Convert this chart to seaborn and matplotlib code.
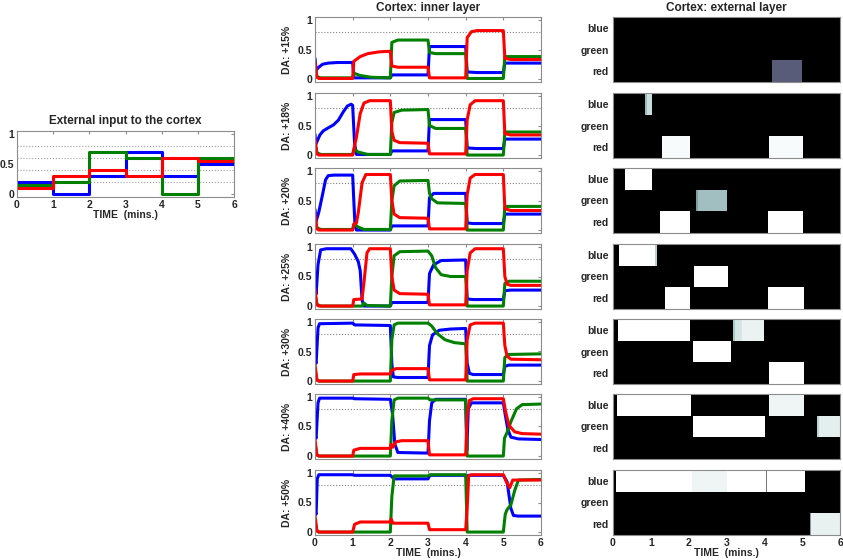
import numpy as np
import matplotlib
matplotlib.use("Agg")
import matplotlib.pyplot as plt
import seaborn as sns

sns.set_style("white")
plt.rcParams["font.family"] = ["Liberation Sans", "DejaVu Sans"]
plt.rcParams["font.weight"] = "bold"

# ---- data ----
minutes = [0, 1, 2, 3, 4, 5, 6]
input_blue = [0.2, 0.0, 0.3, 0.7, 0.3, 0.5]
input_green = [0.15, 0.2, 0.7, 0.6, 0.0, 0.6]
input_red = [0.1, 0.3, 0.4, 0.3, 0.6, 0.55]

da_labels = ["DA: +15%", "DA: +18%", "DA: +20%", "DA: +25%", "DA: +30%", "DA: +40%", "DA: +50%"]

# inner layer traces, (time, activity)
blue_15 = [(0, 0.35), (0.03, 0.15), (0.1, 0.2), (0.2, 0.25), (0.35, 0.27), (0.6, 0.28), (1.0, 0.28),
           (1.03, 0.02), (2.0, 0.02), (2.04, 0.07), (3.0, 0.07), (3.04, 0.55), (4.0, 0.55),
           (4.04, 0.12), (4.3, 0.11), (5.0, 0.11), (5.04, 0.27), (6, 0.27)]
green_15 = [(0, 0.2), (0.05, 0.04), (0.15, 0.02), (1.0, 0.02), (1.03, 0.1), (1.2, 0.06), (1.5, 0.03),
            (2.0, 0.02), (2.04, 0.62), (2.2, 0.66), (3.0, 0.66), (3.04, 0.45), (3.2, 0.43), (4.0, 0.43),
            (4.04, 0.01), (5.0, 0.01), (5.04, 0.38), (6, 0.38)]
red_15 = [(0, 0.28), (0.05, 0.03), (0.1, 0.01), (1.0, 0.01), (1.03, 0.3), (1.2, 0.38), (1.4, 0.43),
          (1.7, 0.46), (2.0, 0.47), (2.04, 0.22), (2.2, 0.2), (3.0, 0.2), (3.04, 0.02), (4.0, 0.02),
          (4.04, 0.7), (4.15, 0.8), (4.3, 0.82), (5.0, 0.82), (5.04, 0.35), (5.2, 0.33), (6, 0.33)]

blue_18 = [(0, 0.35), (0.02, 0.18), (0.13, 0.34), (0.22, 0.41), (0.35, 0.46), (0.49, 0.51), (0.62, 0.59),
           (0.75, 0.73), (0.86, 0.83), (0.96, 0.86), (1.0, 0.84), (1.05, 0.2), (1.1, 0.01), (2.0, 0.01),
           (2.04, 0.07), (3.0, 0.07), (3.04, 0.6), (4.0, 0.6), (4.04, 0.12), (4.3, 0.11), (5.0, 0.11),
           (5.04, 0.27), (6, 0.27)]
green_18 = [(0, 0.2), (0.05, 0.04), (0.15, 0.01), (1.0, 0.01), (1.04, 0.1), (1.15, 0.05), (1.4, 0.01),
            (2.0, 0.01), (2.04, 0.55), (2.1, 0.72), (2.3, 0.76), (3.0, 0.77), (3.04, 0.5), (3.2, 0.45),
            (4.0, 0.45), (4.04, 0.0), (5.0, 0.0), (5.04, 0.39), (6, 0.39)]
red_18 = [(0, 0.28), (0.05, 0.02), (0.1, 0.0), (1.0, 0.0), (1.03, 0.1), (1.1, 0.3), (1.2, 0.7), (1.3, 0.88),
          (1.45, 0.92), (2.0, 0.92), (2.04, 0.4), (2.1, 0.25), (2.25, 0.21), (3.0, 0.2), (3.04, 0.02),
          (4.0, 0.02), (4.04, 0.6), (4.12, 0.85), (4.25, 0.92), (5.0, 0.92), (5.04, 0.36), (5.2, 0.34), (6, 0.34)]

blue_20 = [(0, 0.35), (0.03, 0.15), (0.1, 0.3), (0.2, 0.6), (0.28, 0.85), (0.35, 0.92), (0.5, 0.93),
           (1.0, 0.93), (1.03, 0.5), (1.06, 0.1), (1.1, 0.0), (2.0, 0.0), (2.04, 0.07), (3.0, 0.07),
           (3.04, 0.55), (3.15, 0.62), (4.0, 0.62), (4.04, 0.12), (4.2, 0.11), (5.0, 0.11), (5.04, 0.27), (6, 0.27)]
green_20 = [(0, 0.2), (0.05, 0.04), (0.15, 0.01), (1.0, 0.01), (1.04, 0.1), (1.15, 0.05), (1.3, 0.01),
            (2.0, 0.01), (2.04, 0.5), (2.1, 0.75), (2.25, 0.83), (3.0, 0.84), (3.04, 0.62), (3.1, 0.53),
            (3.25, 0.46), (4.0, 0.45), (4.04, 0.0), (5.0, 0.0), (5.04, 0.4), (6, 0.4)]
red_20 = [(0, 0.28), (0.05, 0.02), (0.1, 0.0), (1.0, 0.0), (1.03, 0.1), (1.1, 0.12), (1.15, 0.3),
          (1.25, 0.8), (1.35, 0.94), (2.0, 0.94), (2.04, 0.5), (2.1, 0.27), (2.25, 0.21), (3.0, 0.2),
          (3.04, 0.02), (4.0, 0.02), (4.04, 0.6), (4.12, 0.88), (4.25, 0.94), (5.0, 0.94), (5.04, 0.36),
          (5.2, 0.33), (6, 0.33)]

blue_25 = [(0, 0.35), (0.03, 0.2), (0.08, 0.7), (0.15, 0.95), (0.3, 0.97), (0.95, 0.97), (1.05, 0.88),
           (1.15, 0.75), (1.2, 0.6), (1.25, 0.1), (1.3, 0.0), (2.0, 0.0), (2.04, 0.06), (3.0, 0.06),
           (3.04, 0.55), (3.15, 0.7), (3.35, 0.77), (4.0, 0.78), (4.04, 0.12), (4.2, 0.11), (5.0, 0.11),
           (5.04, 0.26), (5.2, 0.27), (6, 0.27)]
green_25 = [(0, 0.2), (0.05, 0.03), (0.15, 0.0), (1.25, 0.0), (1.3, 0.05), (1.38, 0.01), (2.0, 0.0),
            (2.04, 0.5), (2.1, 0.85), (2.25, 0.92), (3.0, 0.93), (3.1, 0.85), (3.2, 0.65), (3.35, 0.53),
            (3.6, 0.5), (4.0, 0.5), (4.04, 0.0), (5.0, 0.0), (5.04, 0.38), (5.15, 0.42), (6, 0.42)]
red_25 = [(0, 0.28), (0.05, 0.02), (0.1, 0.0), (1.0, 0.0), (1.03, 0.11), (1.25, 0.12), (1.3, 0.4),
          (1.38, 0.9), (1.45, 0.97), (2.0, 0.97), (2.04, 0.5), (2.1, 0.27), (2.25, 0.21), (3.0, 0.2),
          (3.04, 0.02), (4.0, 0.02), (4.04, 0.6), (4.12, 0.9), (4.25, 0.97), (5.0, 0.97), (5.04, 0.5),
          (5.1, 0.37), (5.2, 0.35), (6, 0.35)]

blue_30 = [(0, 0.35), (0.03, 0.3), (0.08, 0.9), (0.12, 0.97), (1.0, 0.98), (1.05, 0.95), (2.0, 0.94),
           (2.04, 0.3), (2.08, 0.07), (2.2, 0.06), (3.0, 0.06), (3.04, 0.6), (3.12, 0.78), (3.3, 0.86),
           (3.6, 0.88), (4.0, 0.89), (4.04, 0.3), (4.1, 0.13), (4.2, 0.11), (5.0, 0.11), (5.04, 0.25),
           (5.15, 0.27), (6, 0.27)]
green_30 = [(0, 0.2), (0.05, 0.02), (0.1, 0.0), (2.0, 0.0), (2.04, 0.7), (2.1, 0.95), (2.2, 0.98),
            (3.0, 0.98), (3.1, 0.93), (3.25, 0.8), (3.45, 0.7), (3.7, 0.65), (4.0, 0.63), (4.04, 0.0),
            (5.0, 0.0), (5.04, 0.4), (5.15, 0.45), (6, 0.46)]
red_30 = [(0, 0.28), (0.05, 0.02), (0.1, 0.0), (1.0, 0.0), (1.03, 0.11), (1.2, 0.12), (2.0, 0.12),
          (2.04, 0.18), (2.15, 0.21), (3.0, 0.21), (3.04, 0.02), (4.0, 0.02), (4.04, 0.7), (4.12, 0.95),
          (4.25, 0.98), (5.0, 0.98), (5.04, 0.6), (5.1, 0.42), (5.2, 0.37), (6, 0.36)]

blue_40 = [(0, 0.35), (0.03, 0.3), (0.08, 0.9), (0.12, 0.98), (1.0, 0.98), (1.05, 0.97), (2.0, 0.96),
           (2.06, 0.7), (2.12, 0.2), (2.2, 0.06), (3.0, 0.05), (3.04, 0.6), (3.1, 0.9), (3.2, 0.96),
           (4.0, 0.96), (4.03, 0.1), (4.07, 0.8), (4.15, 0.9), (5.0, 0.9), (5.05, 0.7), (5.12, 0.45),
           (5.2, 0.32), (5.4, 0.29), (6, 0.28)]
green_40 = [(0, 0.2), (0.05, 0.02), (0.1, 0.0), (2.0, 0.0), (2.04, 0.6), (2.1, 0.95), (2.2, 0.98),
            (3.0, 0.98), (3.05, 0.95), (4.0, 0.95), (4.04, 0.0), (5.0, 0.0), (5.03, 0.3), (5.1, 0.4),
            (5.2, 0.58), (5.35, 0.8), (5.5, 0.87), (6, 0.88)]
red_40 = [(0, 0.28), (0.05, 0.02), (0.1, 0.0), (1.0, 0.0), (1.03, 0.1), (1.2, 0.13), (2.0, 0.13),
          (2.02, 0.2), (2.07, 0.15), (2.15, 0.24), (2.3, 0.26), (3.0, 0.26), (3.04, 0.02), (4.0, 0.02),
          (4.04, 0.7), (4.1, 0.94), (4.2, 0.97), (5.0, 0.97), (5.06, 0.75), (5.15, 0.52), (5.3, 0.41),
          (5.5, 0.38), (6, 0.37)]

blue_50 = [(0, 0.35), (0.03, 0.3), (0.06, 0.9), (0.1, 0.97), (1.0, 0.97), (1.05, 0.96), (2.0, 0.96),
           (2.1, 0.9), (3.0, 0.9), (3.05, 0.96), (4.0, 0.96), (4.03, 0.9), (4.07, 0.96), (5.0, 0.96),
           (5.1, 0.85), (5.2, 0.4), (5.27, 0.28), (5.4, 0.27), (6, 0.27)]
green_50 = [(0, 0.2), (0.05, 0.02), (0.1, 0.0), (2.0, 0.0), (2.04, 0.6), (2.1, 0.95), (3.0, 0.95),
            (3.05, 0.97), (4.0, 0.97), (4.04, 0.0), (5.0, 0.0), (5.05, 0.3), (5.1, 0.38), (5.2, 0.46),
            (5.3, 0.7), (5.4, 0.88), (6, 0.89)]
red_50 = [(0, 0.28), (0.05, 0.02), (0.1, 0.0), (1.0, 0.0), (1.05, 0.13), (1.2, 0.17), (2.0, 0.17),
          (2.02, 0.22), (2.07, 0.15), (3.0, 0.15), (3.04, 0.04), (4.0, 0.04), (4.04, 0.4), (4.08, 0.95),
          (4.15, 0.97), (5.0, 0.97), (5.08, 0.85), (5.17, 0.75), (5.25, 0.88), (5.35, 0.88), (6, 0.88)]

blue_traces = [blue_15, blue_18, blue_20, blue_25, blue_30, blue_40, blue_50]
green_traces = [green_15, green_18, green_20, green_25, green_30, green_40, green_50]
red_traces = [red_15, red_18, red_20, red_25, red_30, red_40, red_50]

# external layer: (row, start, end, level)
rows = ["blue", "green", "red"]
cells_15 = [("red", 4.2, 5.0, 0.4)]
cells_18 = [("blue", 0.85, 0.9, 0.7), ("blue", 0.9, 1.03, 0.85), ("red", 1.3, 2.04, 0.98),
            ("red", 4.13, 5.03, 0.98)]
cells_20 = [("blue", 0.32, 1.03, 1.0), ("green", 2.2, 2.25, 0.6), ("green", 2.25, 3.02, 0.72),
            ("red", 1.24, 2.04, 1.0), ("red", 4.1, 5.03, 1.0)]
cells_25 = [("blue", 0.17, 1.12, 1.0), ("blue", 1.12, 1.15, 0.8), ("green", 2.14, 3.04, 1.0),
            ("red", 1.38, 2.04, 1.0), ("red", 4.1, 5.05, 1.0)]
cells_30 = [("blue", 0.13, 2.04, 1.0), ("blue", 3.17, 3.22, 0.75), ("blue", 3.22, 3.4, 0.88),
            ("blue", 3.4, 4.0, 0.94), ("green", 2.12, 3.12, 1.0), ("red", 4.13, 5.05, 1.0)]
cells_40 = [("blue", 0.1, 2.06, 1.0), ("blue", 4.13, 5.05, 0.95), ("green", 2.12, 4.02, 1.0),
            ("green", 5.4, 5.45, 0.8), ("green", 5.45, 6.0, 0.92)]
cells_50 = [("blue", 0.08, 2.1, 1.0), ("blue", 2.1, 3.0, 0.95), ("blue", 3.0, 4.05, 1.0),
            ("blue", 4.05, 4.08, 0.5), ("blue", 4.08, 5.08, 1.0), ("red", 5.2, 5.24, 0.6),
            ("red", 5.24, 6.0, 0.93)]
ext_cells = [cells_15, cells_18, cells_20, cells_25, cells_30, cells_40, cells_50]

# ---- figure ----
W, H = 843, 560
fig = plt.figure(figsize=(W / 100, H / 100), dpi=100)


def box(x0, y0, x1, y1):
    return [x0 / W, 1 - y1 / H, (x1 - x0) / W, (y1 - y0) / H]


colors = {"blue": "#0000ff", "green": "#008000", "red": "#ff0000"}
frame = "#8c8c8c"
fs = 7.5
tfs = 8.5


def style_frame(ax):
    for s in ax.spines.values():
        s.set_visible(True)
        s.set_color(frame)
        s.set_linewidth(0.8)
    ax.tick_params(direction="in", length=2.5, color=frame, top=True, right=True,
                   labelsize=fs, pad=2)


def draw_trace(ax, pts, color):
    t = [p[0] for p in pts]
    v = [p[1] for p in pts]
    sns.lineplot(x=t, y=v, ax=ax, color=color, linewidth=2.2, estimator=None, sort=False)


# left: external input
ax = fig.add_axes(box(17, 131, 234, 197))
for y in [0.2, 0.4, 0.6, 0.8]:
    ax.axhline(y, color="#a0a0a0", ls=":", lw=0.8)
for name, vals in [("blue", input_blue), ("green", input_green), ("red", input_red)]:
    sns.lineplot(x=minutes, y=vals + [vals[-1]], ax=ax, color=colors[name], linewidth=2.2,
                 drawstyle="steps-post", estimator=None, sort=False)
ax.set_xlim(0, 6)
ax.set_ylim(-0.05, 1.05)
ax.set_xticks(minutes)
ax.set_yticks([0, 0.5, 1])
ax.set_yticklabels(["0", "0.5", "1"])
style_frame(ax)
ax.set_title("External input to the cortex", fontsize=tfs, fontweight="bold", pad=5)
ax.set_xlabel("TIME  (mins.)", fontsize=fs, fontweight="bold", labelpad=0)

tops = [17, 93, 168, 244, 319, 394, 470]
for i, top in enumerate(tops):
    # middle: inner layer
    ax = fig.add_axes(box(315, top, 541, top + 65))
    ax.axhline(0.8, color="#808080", ls=":", lw=0.8)
    draw_trace(ax, blue_traces[i], colors["blue"])
    draw_trace(ax, green_traces[i], colors["green"])
    draw_trace(ax, red_traces[i], colors["red"])
    ax.set_xlim(0, 6)
    ax.set_ylim(-0.05, 1.05)
    ax.set_xticks(minutes)
    ax.set_yticks([0, 0.5, 1])
    ax.set_yticklabels(["0", "0.5", "1"])
    style_frame(ax)
    ax.set_ylabel(da_labels[i], fontsize=fs, fontweight="bold")
    ax.yaxis.set_label_coords(-0.1, 0.5)
    if i == 0:
        ax.set_title("Cortex: inner layer", fontsize=tfs, fontweight="bold", pad=4)
    if i == len(tops) - 1:
        ax.set_xlabel("TIME  (mins.)", fontsize=fs, fontweight="bold", labelpad=0)
    else:
        ax.set_xticklabels([])

    # right: external layer
    mat = np.zeros((3, 600))
    for row, t0, t1, level in ext_cells[i]:
        mat[rows.index(row), int(round(t0 * 100)):int(round(t1 * 100))] = level
    ax = fig.add_axes(box(613, top, 840, top + 65))
    sns.heatmap(mat, ax=ax, cmap="bone", vmin=0, vmax=1, cbar=False,
                xticklabels=False, yticklabels=False)
    style_frame(ax)
    ax.set_yticks([0.5, 1.5, 2.5])
    ax.set_yticklabels(rows, fontsize=fs, fontweight="bold", rotation=0)
    ax.tick_params(axis="y", length=0, pad=3)
    ax.set_xticks(np.arange(0, 601, 100))
    ax.tick_params(axis="x", color="#c0c0c0", top=True)
    if i == 0:
        ax.set_title("Cortex: external layer", fontsize=tfs, fontweight="bold", pad=4)
    if i == len(tops) - 1:
        ax.set_xticklabels([str(m) for m in minutes], fontsize=fs, fontweight="bold", rotation=0)
        ax.set_xlabel("TIME  (mins.)", fontsize=fs, fontweight="bold", labelpad=0)
    else:
        ax.set_xticklabels([])

fig.savefig("out.png", dpi=100)
